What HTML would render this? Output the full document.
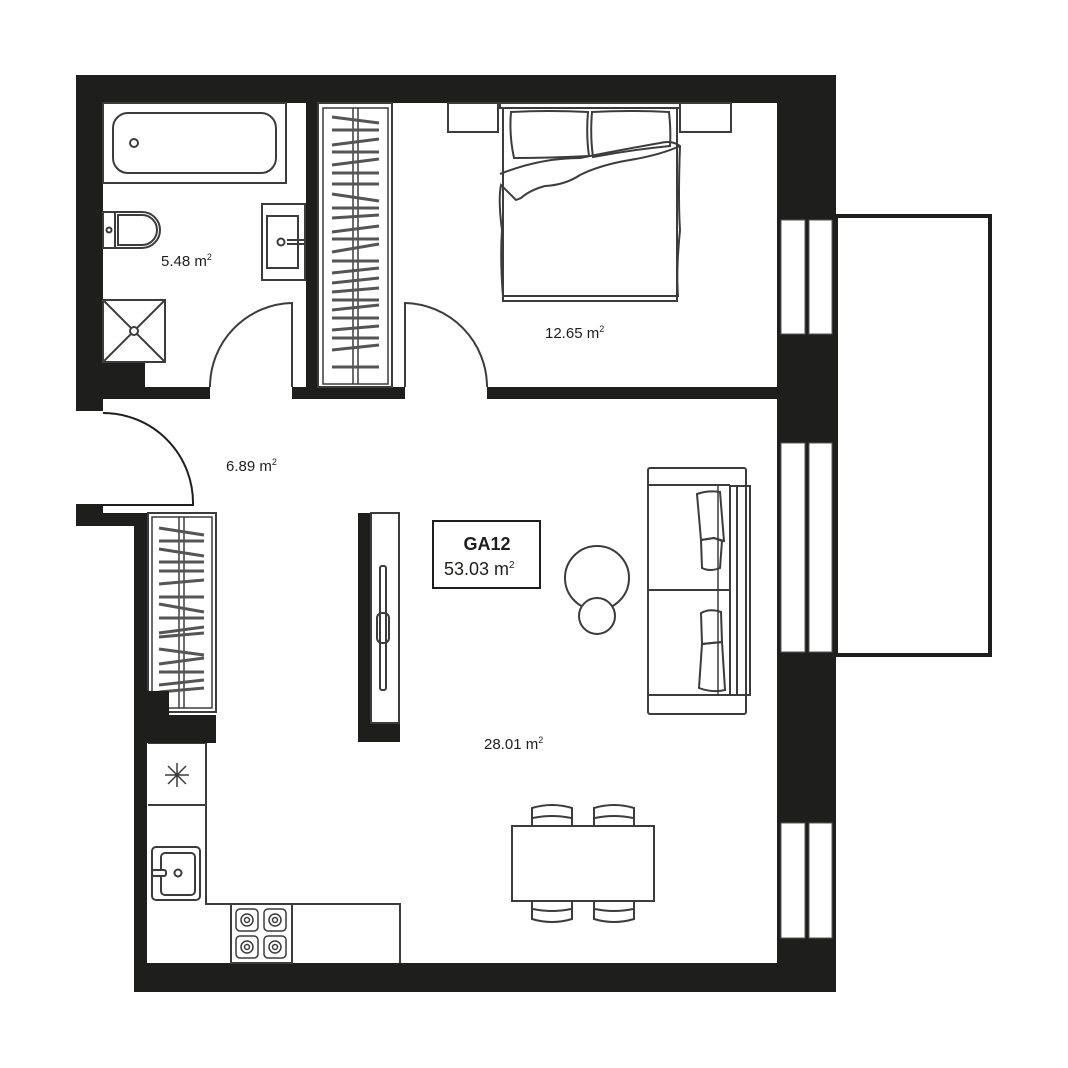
<!DOCTYPE html>
<html><head><meta charset="utf-8"><style>
html,body{margin:0;padding:0;background:#fff}
svg{display:block}
text{font-family:"Liberation Sans",sans-serif;fill:#1e1e1c}
</style></head><body>
<svg width="1068" height="1068" viewBox="0 0 1068 1068" xmlns="http://www.w3.org/2000/svg">
<rect width="1068" height="1068" fill="#fff"/>
<g fill="#1e1e1c">
<rect x="76" y="75" width="760" height="28"/>
<rect x="76" y="75" width="27" height="336"/>
<rect x="777" y="75" width="59" height="917"/>
<rect x="134" y="963" width="702" height="29"/>
<rect x="134" y="513" width="13" height="479"/>
<rect x="76" y="504" width="27" height="22"/>
<rect x="76" y="513" width="71" height="13"/>
<rect x="103" y="387" width="107" height="12"/>
<rect x="103" y="362" width="42" height="37"/>
<rect x="306" y="103" width="12" height="290"/>
<rect x="292" y="387" width="113" height="12"/>
<rect x="487" y="387" width="291" height="12"/>
<rect x="358" y="513" width="13" height="229"/>
<rect x="358" y="723" width="42" height="19"/>
</g>
<g fill="#fff" stroke="#555" stroke-width="1">
<rect x="781" y="220" width="24" height="114"/><rect x="809" y="220" width="23" height="114"/>
<rect x="781" y="443" width="24" height="209"/><rect x="809" y="443" width="23" height="209"/>
<rect x="781" y="823" width="24" height="115"/><rect x="809" y="823" width="23" height="115"/>
</g>
<rect x="836" y="216" width="154" height="439" fill="none" stroke="#1e1e1c" stroke-width="4"/>

<g fill="none" stroke="#3c3c3c" stroke-width="2">
<rect x="103" y="103" width="183" height="80"/>
<rect x="113" y="113" width="163" height="60" rx="15"/>
<circle cx="134" cy="143" r="4"/>
<rect x="103" y="212" width="12" height="36"/>
<path d="M115 212 H142 A18 18 0 0 1 142 248 H115"/>
<path d="M118 215 H142 A15 15 0 0 1 142 245 H118 Z"/>
<circle cx="109" cy="230" r="2.5"/>
<rect x="262" y="204" width="43" height="76"/>
<rect x="267" y="216" width="31" height="52"/>
<circle cx="281" cy="242" r="3.5"/>
<path d="M287 240 H305 M287 244 H305"/>
<rect x="103" y="300" width="62" height="62"/>
<path d="M103 300 L165 362 M165 300 L103 362"/>
<circle cx="134" cy="331" r="4" fill="#fff"/>
<path d="M292 387 V303 A84 84 0 0 0 210 387"/>
<path d="M405 387 V303 A84 84 0 0 1 487 387"/>
<path d="M103 505 H193 A90 90 0 0 0 103 413" stroke="#1e1e1c"/>
<rect x="318" y="103" width="74" height="284"/>
<rect x="323" y="108" width="65" height="276" stroke-width="1.5"/>
<path d="M353 108 V384 M358 108 V384" stroke-width="1.5"/>
<rect x="148" y="513" width="68" height="199"/>
<rect x="152" y="517" width="60" height="191" stroke-width="1.5"/>
<path d="M179 517 V708 M184 517 V708" stroke-width="1.5"/>
<rect x="371" y="513" width="28" height="210"/>
<rect x="380" y="566" width="6" height="124" rx="2"/>
<rect x="377" y="613" width="12" height="30" rx="5"/>
<rect x="448" y="103" width="50" height="29"/>
<rect x="680" y="103" width="51" height="29"/>
<rect x="500" y="103" width="180" height="5"/>
<path d="M503 108 V296 M677 108 V296"/>
<rect x="503" y="296" width="174" height="5"/>
<path d="M511 112 Q548 110 588 112 Q586 135 589 156 Q550 158 514 158 Q509 135 511 112 Z"/>
<path d="M592 112 Q630 110 669 112 Q671 130 670 146 Q630 150 593 157 Q590 135 592 112 Z"/>
<path d="M500 174 Q540 158 580 158 Q620 150 660 143 Q672 140 680 146 Q678 200 680 230 Q676 270 678 296 H503 Q500 260 502 230 Q498 200 501 185 L516 200 L521 198 Q530 190 545 186 Q565 185 580 175 Q600 165 630 160 Q660 155 680 146"/>
<circle cx="597" cy="578" r="32"/>
<circle cx="597" cy="616" r="18" fill="#fff"/>
<rect x="648" y="468" width="98" height="246" rx="2"/>
<path d="M648 485 H730 M648 695 H730"/>
<rect x="730" y="486" width="20" height="209"/>
<path d="M737 486 V695"/>
<path d="M648 590 H730"/>
<path d="M718 485 V695" stroke-width="1.5"/>
<path d="M697 494 Q708 490 720 492 L724 541 L714 538 L701 540 Z"/>
<path d="M701 540 L714 538 L722 541 L720 568 Q710 572 702 568 Z"/>
<path d="M701 613 Q710 608 721 612 L722 642 L702 644 Z"/>
<path d="M702 644 L722 642 L725 690 Q712 693 699 688 Z"/>
<rect x="433" y="521" width="107" height="67" stroke="#1e1e1c"/>
<rect x="512" y="826" width="142" height="75"/>
<path d="M532 826 V808 Q552 802 572 808 V826 M533 818 Q552 814 571 818"/>
<path d="M594 826 V808 Q614 802 634 808 V826 M595 818 Q614 814 633 818"/>
<path d="M532 901 V919 Q552 925 572 919 V901 M533 909 Q552 913 571 909"/>
<path d="M594 901 V919 Q614 925 634 919 V901 M595 909 Q614 913 633 909"/>
<path d="M148 743 H206 V904 H400 V963"/>
<path d="M148 805 H206"/>
<path d="M165 775 H189 M177 763 V787 M168 766 L186 784 M186 766 L168 784" stroke-width="1.5"/>
<rect x="152" y="847" width="48" height="53" rx="4"/>
<rect x="161" y="853" width="34" height="42" rx="4"/>
<circle cx="178" cy="873" r="3.5"/>
<rect x="152" y="870" width="14" height="6" rx="2" fill="#fff"/>
<rect x="231" y="904" width="61" height="59"/>
<g stroke-width="1.5">
<rect x="236" y="909" width="22" height="22" rx="4"/><rect x="264" y="909" width="22" height="22" rx="4"/>
<rect x="236" y="936" width="22" height="22" rx="4"/><rect x="264" y="936" width="22" height="22" rx="4"/>
<circle cx="247" cy="920" r="6"/><circle cx="275" cy="920" r="6"/>
<circle cx="247" cy="947" r="6"/><circle cx="275" cy="947" r="6"/>
<circle cx="247" cy="920" r="2.5"/><circle cx="275" cy="920" r="2.5"/>
<circle cx="247" cy="947" r="2.5"/><circle cx="275" cy="947" r="2.5"/>
</g>
</g>
<g stroke="#555" stroke-width="3" fill="none">
<path d="M332 117 L379 123 M332 130 H379 M332 145 L379 139 M332 152 H379 M332 165 L379 159 M332 173 H379 M332 184 H379 M332 194 L379 201 M332 208 H379 M332 218 L379 215 M332 232 L379 226 M332 239 H379 M332 252 L379 244 M332 261 H379 M332 273 L379 268 M332 283 L379 278 M332 292 L379 288 M332 300 H379 M332 310 L379 305 M332 318 H379 M332 330 L379 326 M332 338 H379 M332 350 L379 345 M332 367 H379"/>
<path d="M159 528 L204 535 M159 541 H204 M159 549 L204 556 M159 562 H204 M159 571 H204 M159 584 L204 580 M159 597 H204 M159 604 L204 612 M159 618 H204 M159 633 L204 627 M159 637 L204 633 M159 649 L204 655 M159 664 L204 658 M159 672 H204 M159 685 L204 680 M159 692 L204 688"/>
</g>
<g fill="#1e1e1c">
<rect x="134" y="715" width="82" height="28"/>
<rect x="134" y="691" width="35" height="30"/>
</g>
<text x="161" y="266" font-size="15">5.48 m<tspan font-size="9" dy="-6">2</tspan></text>
<text x="545" y="338" font-size="15">12.65 m<tspan font-size="9" dy="-6">2</tspan></text>
<text x="226" y="471" font-size="15">6.89 m<tspan font-size="9" dy="-6">2</tspan></text>
<text x="484" y="749" font-size="15">28.01 m<tspan font-size="9" dy="-6">2</tspan></text>
<text x="487" y="550" font-size="18" font-weight="bold" text-anchor="middle">GA12</text>
<text x="444" y="575" font-size="18">53.03 m<tspan font-size="10" dy="-7">2</tspan></text>
</svg>
</body></html>
